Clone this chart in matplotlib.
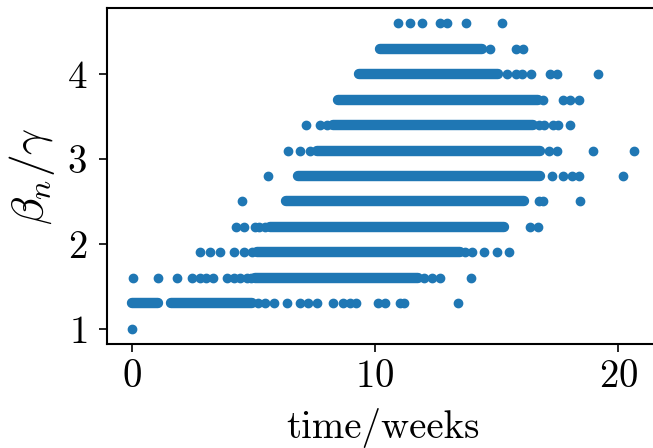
import matplotlib
matplotlib.use("Agg")
import matplotlib.pyplot as plt

plt.rcParams['font.family'] = 'serif'
plt.rcParams['font.serif'] = ['cmr10']
plt.rcParams['mathtext.fontset'] = 'cm'
plt.rcParams['axes.formatter.use_mathtext'] = True
plt.rcParams['axes.unicode_minus'] = False

# rate levels on the y axis (beta_n / gamma)
levels = [1.0, 1.3, 1.6, 1.9, 2.2, 2.5, 2.8, 3.1, 3.4, 3.7, 4.0, 4.3, 4.6]

# stretches where the points overlap into a solid band (y, first x, last x)
band_y = [1.3, 1.3, 1.6, 1.9, 2.2, 2.5, 2.8, 3.1, 3.4, 3.7, 4.0, 4.3]
band_start = [0.0, 1.6, 5.05, 5.15, 5.67, 6.33, 6.85, 7.61, 8.27, 8.46, 9.35, 10.2]
band_end = [1.09, 4.96, 11.76, 13.47, 15.31, 16.11, 16.77, 16.77, 16.49, 16.68, 15.07, 14.41]

# isolated points (time in weeks) for each level
x_10 = [0.0]
x_13 = [5.2, 5.48, 5.86, 6.38, 6.92, 7.23, 7.61, 8.27, 8.69, 8.98, 9.21,
        10.11, 10.39, 11.01, 11.2, 13.42]
x_16 = [0.06, 1.07, 1.84, 2.47, 2.81, 3.07, 3.35, 3.92, 4.2, 4.44, 4.72, 4.91,
        12.0, 12.33, 12.66, 13.94]
x_19 = [2.81, 3.22, 3.64, 4.2, 4.63, 4.93, 13.7, 13.98, 14.46, 15.02, 15.5]
x_22 = [4.3, 4.63, 5.05, 5.24, 5.48, 16.35, 16.68]
x_25 = [4.53, 16.73, 16.91, 18.43]
x_28 = [5.59, 17.25, 17.72, 18.1, 18.38, 20.17]
x_31 = [6.42, 6.9, 7.32, 17.15, 17.48, 18.95, 20.65]
x_34 = [7.16, 7.75, 8.03, 16.73, 16.96, 17.29, 17.53, 18.0]
x_37 = [16.91, 17.72, 18.0, 18.38]
x_40 = [15.4, 15.78, 16.02, 16.39, 17.2, 17.48, 19.14]
x_43 = [14.74, 15.78, 16.06]
x_46 = [10.96, 11.43, 11.91, 12.66, 12.95, 13.75, 15.21]

points = [x_10, x_13, x_16, x_19, x_22, x_25, x_28, x_31, x_34, x_37,
          x_40, x_43, x_46]

fig = plt.figure(figsize=(6.53, 4.48), dpi=100)
ax = fig.add_axes([106.6 / 653, 1 - 344 / 448, 552.8 / 653, 336 / 448])

ax.hlines(band_y, band_start, band_end, colors='C0', linewidth=7.5,
          capstyle='round')
for y, xs in zip(levels, points):
    ax.scatter(xs, [y] * len(xs), color='C0')

ax.set_xticks([0, 10, 20])
ax.set_yticks([1, 2, 3, 4])
ax.tick_params(labelsize=28, length=6, width=1.2, pad=5)
ax.tick_params(axis='y', pad=8)
for s in ax.spines.values():
    s.set_linewidth(1.5)
ax.spines['right'].set_visible(False)

ax.set_xlabel('time/weeks', fontsize=28, va='baseline')
ax.xaxis.set_label_coords(0.5, -0.28)
ax.set_ylabel(r'$\beta_n/\gamma$', fontsize=33, va='center')
ax.yaxis.set_label_coords(-0.135, 0.5)

fig.savefig('out.png', dpi=100)
